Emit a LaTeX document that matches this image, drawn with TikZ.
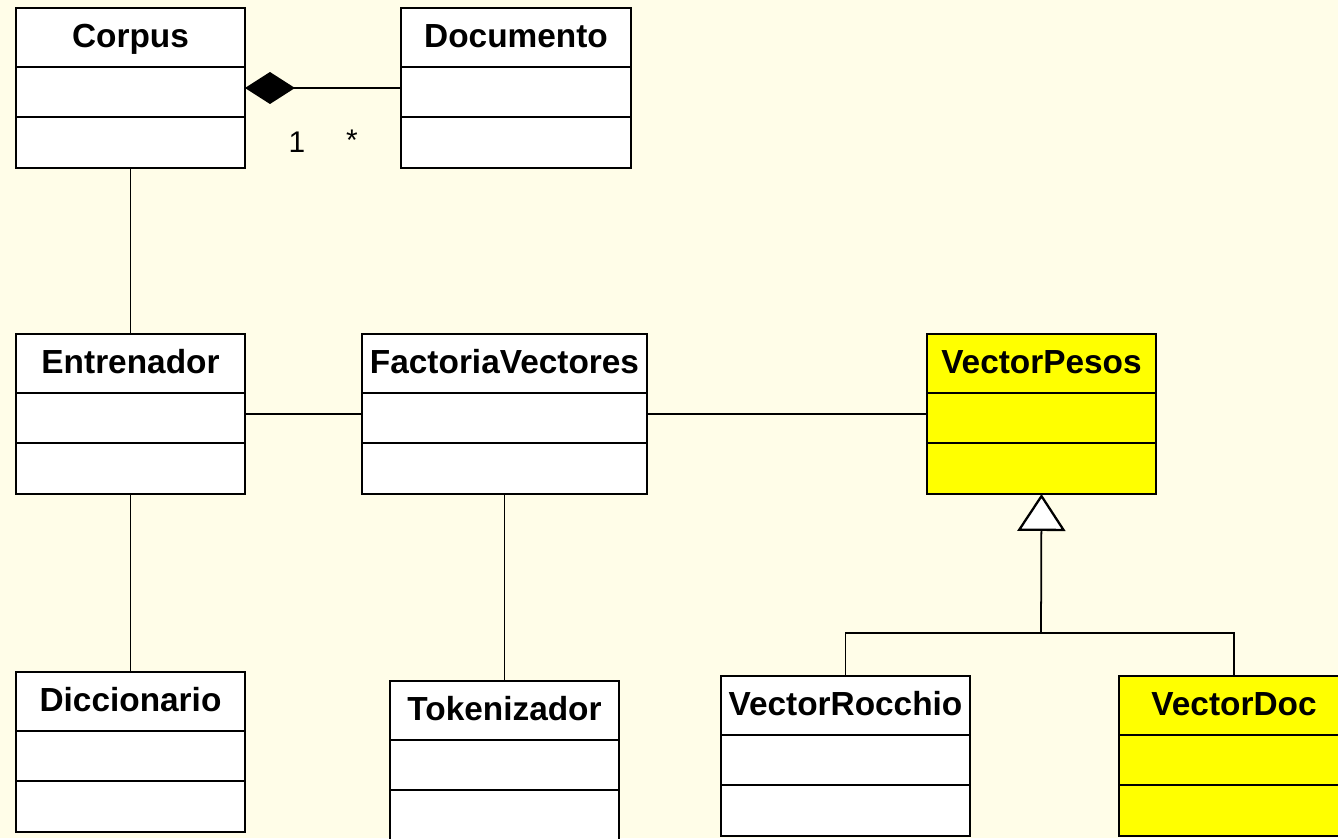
\documentclass[tikz,border=0pt]{standalone}
\usepackage{fontspec}
\setmainfont{Liberation Sans}
\usepackage{tikz}
\usetikzlibrary{arrows.meta,positioning}

\definecolor{paper}{RGB}{255,253,232}
\definecolor{classyellow}{RGB}{255,255,0}

\tikzset{
  classbox/.style={draw, line width=1.6pt, minimum height=3.2cm, inner sep=0, outer sep=0},
  classtitle/.style={font=\bfseries\fontsize{19}{22}\selectfont, inner sep=0, anchor=base},
  divider/.style={line width=1.6pt},
  assoc/.style={line width=1pt},
  mult/.style={font=\fontsize{17}{20}\selectfont, inner sep=0}
}

% name, position, width, fill, title
\newcommand{\umlclass}[5]{%
  \node[classbox, fill=#4, minimum width=#3] (#1) at (#2) {};
  \node[classtitle] (#1-title) at ([yshift=-0.79cm]#1.north) {#5};
  \draw[divider] ([yshift=-1.18cm]#1.north west) -- ([yshift=-1.18cm]#1.north east);
  \draw[divider] ([yshift=-2.18cm]#1.north west) -- ([yshift=-2.18cm]#1.north east);
}

\begin{document}
\begin{tikzpicture}[x=0.02cm,y=-0.02cm]
\fill[paper] (0,0) rectangle (1338,838);
\useasboundingbox (0,0) rectangle (1338,838);
\clip (0,0) rectangle (1338,838);

\umlclass{corpus}{130.5,88}{4.58cm}{white}{Corpus}
\umlclass{documento}{516,88}{4.6cm}{white}{Documento}
\umlclass{entrenador}{130.5,414}{4.58cm}{white}{Entrenador}
\umlclass{factoria}{504.5,414}{5.7cm}{white}{FactoriaVectores}
\umlclass{pesos}{1041.5,414}{4.58cm}{classyellow}{VectorPesos}
\umlclass{diccionario}{130.5,752}{4.58cm}{white}{Diccionario}
\umlclass{tokenizador}{504.5,761}{4.58cm}{white}{Tokenizador}
\umlclass{rocchio}{845.5,756}{4.98cm}{white}{VectorRocchio}
\umlclass{vdoc}{1234,756}{4.6cm}{classyellow}{VectorDoc}

% composicion
\draw[assoc, -{Diamond[length=1cm, width=0.64cm, fill=black]}] (documento.west) -- (corpus.east);
\node[mult] (m-one) at (297,142) {1};
\node[mult] (m-many) at (352,140) {*};

\draw[assoc] (corpus.south) -- (entrenador.north);
\draw[assoc] (entrenador.east) -- (factoria.west);
\draw[assoc] (factoria.east) -- (pesos.west);
\draw[assoc] (entrenador.south) -- (diccionario.north);
\draw[assoc] (factoria.south) -- (tokenizador.north);

% herencia
\coordinate (gen) at (1041,633);
\draw[assoc] (rocchio.north) |- (gen) -| (vdoc.north);
\draw[assoc, -{Triangle[open, length=0.74cm, width=0.96cm, fill=white, line width=1.3pt]}] (gen) -- (pesos.south);
\end{tikzpicture}
\end{document}
